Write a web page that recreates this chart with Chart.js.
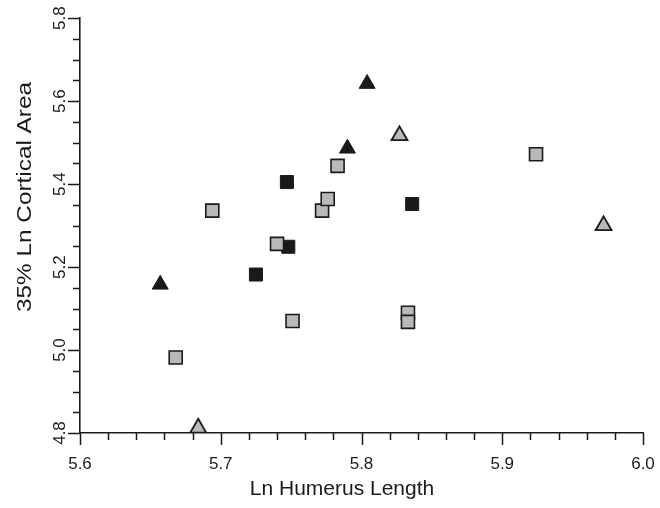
<!DOCTYPE html>
<html>
<head>
<meta charset="utf-8">
<script src="https://cdn.jsdelivr.net/npm/chart.js@4.4.0/dist/chart.umd.min.js"></script>
<style>
  html, body { margin: 0; padding: 0; background: #fff; }
  #wrap { width: 660px; height: 508px; }
</style>
</head>
<body>
<div id="wrap"><canvas id="myChart" width="660" height="508"></canvas></div>
<script>
// values
var blackTriX = [5.657, 5.804, 5.790];
var blackTriY = [5.158, 5.642, 5.486];
var grayTriX = [5.827, 5.972, 5.684];
var grayTriY = [5.517, 5.300, 4.812];
var blackSqX = [5.747, 5.748, 5.836, 5.725];
var blackSqY = [5.405, 5.249, 5.352, 5.182];
var graySqX = [5.694, 5.740, 5.772, 5.776, 5.783, 5.924, 5.833, 5.833, 5.751, 5.668];
var graySqY = [5.336, 5.256, 5.336, 5.364, 5.444, 5.472, 5.090, 5.068, 5.070, 4.982];
var xTicks = [5.6, 5.7, 5.8, 5.9, 6.0];
var yTicks = [4.8, 5.0, 5.2, 5.4, 5.6, 5.8];
var xTitle = "Ln Humerus Length";
var yTitle = "35% Ln Cortical Area";

function pts(xs, ys) {
  var out = [];
  for (var i = 0; i < xs.length; i++) out.push({x: xs[i], y: ys[i]});
  return out;
}

var ink = "#1a1a1a";
var gray = "#b9b9b9";
var font = "'Liberation Sans', Arial, sans-serif";

// axis ticks (major + minor) and axis titles
var axisPlugin = {
  id: "axisBits",
  afterDraw: function(chart) {
    var ctx = chart.ctx, xs = chart.scales.x, ys = chart.scales.y;
    ctx.save();
    ctx.strokeStyle = ink;
    ctx.lineWidth = 1.5;
    ctx.beginPath();
    for (var i = 0; i <= 20; i++) {
      var px = Math.round(xs.getPixelForValue(5.6 + i * 0.02)) + 0.5;
      var len = i % 5 === 0 ? 12 : 7;
      ctx.moveTo(px, xs.top);
      ctx.lineTo(px, xs.top + len);
    }
    for (var j = 0; j <= 20; j++) {
      var py = Math.round(ys.getPixelForValue(4.8 + j * 0.05)) + 0.5;
      var l2 = j % 4 === 0 ? 12 : 7;
      ctx.moveTo(ys.right, py);
      ctx.lineTo(ys.right - l2, py);
    }
    ctx.stroke();

    ctx.fillStyle = ink;
    ctx.textAlign = "center";
    ctx.textBaseline = "middle";
    ctx.font = "21px " + font;
    ctx.fillText(xTitle, 342, 489);
    ctx.font = "20px " + font;
    ctx.translate(25, 197);
    ctx.rotate(-Math.PI / 2);
    var w = ctx.measureText(yTitle).width;
    ctx.scale(230 / w, 1);
    ctx.fillText(yTitle, 0, 0);
    ctx.restore();
  }
};

new Chart("myChart", {
  type: "scatter",
  data: {
    datasets: [{
      data: pts(graySqX, graySqY),
      pointStyle: "rect",
      pointRadius: 9.2,
      backgroundColor: gray,
      borderColor: ink,
      borderWidth: 1.6
    }, {
      data: pts(blackSqX, blackSqY),
      pointStyle: "rect",
      pointRadius: 9.2,
      backgroundColor: ink,
      borderColor: ink,
      borderWidth: 1
    }, {
      data: pts(grayTriX, grayTriY),
      pointStyle: "triangle",
      pointRadius: 9.2,
      backgroundColor: gray,
      borderColor: ink,
      borderWidth: 1.8
    }, {
      data: pts(blackTriX, blackTriY),
      pointStyle: "triangle",
      pointRadius: 9.2,
      backgroundColor: ink,
      borderColor: ink,
      borderWidth: 1
    }]
  },
  options: {
    responsive: false,
    animation: false,
    layout: {padding: {top: 18, right: 0, left: 0, bottom: 0}},
    plugins: {legend: {display: false}, tooltip: {enabled: false}},
    scales: {
      x: {
        type: "linear",
        min: 5.6,
        max: 6.0,
        afterBuildTicks: function(s) { s.ticks = xTicks.map(function(v) { return {value: v}; }); },
        afterFit: function(s) { s.height = 75; s.paddingRight = 17; s.paddingLeft = 0; },
        grid: {display: false, drawTicks: false},
        border: {display: true, color: ink, width: 1.6},
        ticks: {
          color: ink,
          font: {family: font, size: 17},
          padding: 21,
          maxRotation: 0,
          callback: function(v) { return v.toFixed(1); }
        }
      },
      y: {
        type: "linear",
        min: 4.8,
        max: 5.8,
        afterBuildTicks: function(s) { s.ticks = yTicks.map(function(v) { return {value: v}; }); },
        afterFit: function(s) { s.width = 80; },
        grid: {display: false, drawTicks: false},
        border: {display: true, color: ink, width: 1.6},
        ticks: {
          color: ink,
          font: {family: font, size: 17},
          padding: 8,
          minRotation: 90,
          maxRotation: 90,
          crossAlign: "center",
          callback: function(v) { return v.toFixed(1); }
        }
      }
    }
  },
  plugins: [axisPlugin]
});
</script>
</body>
</html>
